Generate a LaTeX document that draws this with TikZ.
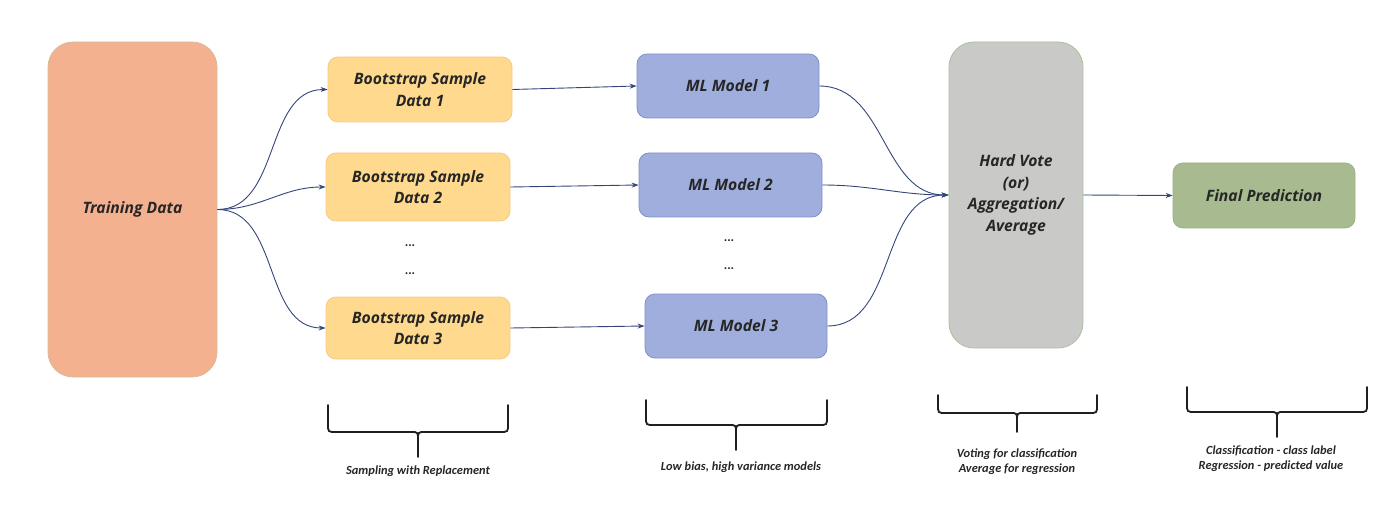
\documentclass[tikz,border=0pt]{standalone}
\usepackage{fontspec}
\setmainfont{Carlito}
\newfontfamily\boxfont{Open Sans}
\usetikzlibrary{arrows.meta}
\definecolor{trainfill}{HTML}{F4B190}
\definecolor{trainline}{HTML}{D9BC98}
\definecolor{bootfill}{HTML}{FFD98E}
\definecolor{bootline}{HTML}{F6C987}
\definecolor{modelfill}{HTML}{9FAEDD}
\definecolor{modelline}{HTML}{7F90C8}
\definecolor{votefill}{HTML}{C9CAC8}
\definecolor{voteline}{HTML}{A9C29B}
\definecolor{finalfill}{HTML}{A8BB90}
\definecolor{finalline}{HTML}{9AAF85}
\definecolor{arrline}{HTML}{34457E}
\definecolor{txt}{HTML}{262626}
\tikzset{
	box/.style={rectangle,rounded corners=10pt,line width=0.8pt,align=center,text=txt,
		font=\boxfont\fontsize{15.7}{21.5}\selectfont\bfseries\itshape,inner sep=0pt},
	arr/.style={draw=arrline,line width=0.9pt,-{Stealth[length=7pt,width=5pt]}},
	brc/.style={draw=black!88,line width=1.8pt},
	note/.style={align=center,text=txt,font=\fontsize{12.4}{15}\selectfont\bfseries\itshape},
	dots/.style={text=txt,font=\fontsize{13}{13}\selectfont\bfseries}
}
\begin{document}
\begin{tikzpicture}[x=1pt,y=-1pt]
	\useasboundingbox (0,0) rectangle (1400,505);
	% boxes
	\node[box,rounded corners=25pt,fill=trainfill,draw=trainline,minimum width=169pt,minimum height=335pt] (train) at (132.5,209.5) {Training Data};
	\node[box,fill=bootfill,draw=bootline,minimum width=184pt,minimum height=65pt] (b1) at (420,89.5) {Bootstrap Sample\\Data 1};
	\node[box,fill=bootfill,draw=bootline,minimum width=184pt,minimum height=68pt] (b2) at (418,187) {Bootstrap Sample\\Data 2};
	\node[box,fill=bootfill,draw=bootline,minimum width=184pt,minimum height=62pt] (b3) at (418,328) {Bootstrap Sample\\Data 3};
	\node[box,fill=modelfill,draw=modelline,minimum width=182pt,minimum height=64pt] (m1) at (728,86) {ML Model 1};
	\node[box,fill=modelfill,draw=modelline,minimum width=183pt,minimum height=64pt] (m2) at (730.5,185) {ML Model 2};
	\node[box,fill=modelfill,draw=modelline,minimum width=182pt,minimum height=64pt] (m3) at (736,326) {ML Model 3};
	\node[box,rounded corners=25pt,fill=votefill,draw=voteline,minimum width=134pt,minimum height=306pt] (vote) at (1016,195) {Hard Vote\\(or)\\Aggregation/\\Average};
	\node[box,fill=finalfill,draw=finalline,minimum width=182pt,minimum height=65pt] (final) at (1264,195.5) {Final Prediction};
	% dots
	\node[dots] (bd1) at (410,246) {...};
	\node[dots] (bd2) at (410,274) {...};
	\node[dots] (md1) at (729,241) {...};
	\node[dots] (md2) at (729,269) {...};
	% connectors
	\foreach \b in {b1,b2,b3}
		\draw[arr] (train.east) to[out=0,in=180] (\b.west);
	\foreach \b/\m in {b1/m1,b2/m2,b3/m3}
		\draw[arr] (\b.east) -- (\m.west);
	\foreach \m in {m1,m2,m3}
		\draw[arr] (\m.east) to[out=0,in=180] (vote.west);
	\draw[arr] (vote.east) -- (final.west);
	% braces
	\foreach \l/\r/\c/\t/\m/\b in {328/508/418/405/432/457,646/827/736/400/425/450,938/1097/1017/395/413/432,1187/1367/1277/387/412/437}
		{
			\draw[brc,line cap=round] (\l,\t) -- (\l,\m-8) .. controls (\l,\m) .. (\l+8,\m) -- (\c-7,\m) .. controls (\c,\m) .. (\c,\m+8) -- (\c,\b);
			\draw[brc,line cap=round] (\r,\t) -- (\r,\m-8) .. controls (\r,\m) .. (\r-8,\m) -- (\c+7,\m) .. controls (\c,\m) .. (\c,\m+8);
		}
	% notes
	\node[note] (n1) at (418,471) {Sampling with Replacement};
	\node[note] (n2) at (741,467) {Low bias, high variance models};
	\node[note] (n3) at (1017,462) {Voting for classification\\Average for regression};
	\node[note] (n4) at (1271,459) {Classification - class label\\Regression - predicted value};
\end{tikzpicture}
\end{document}
